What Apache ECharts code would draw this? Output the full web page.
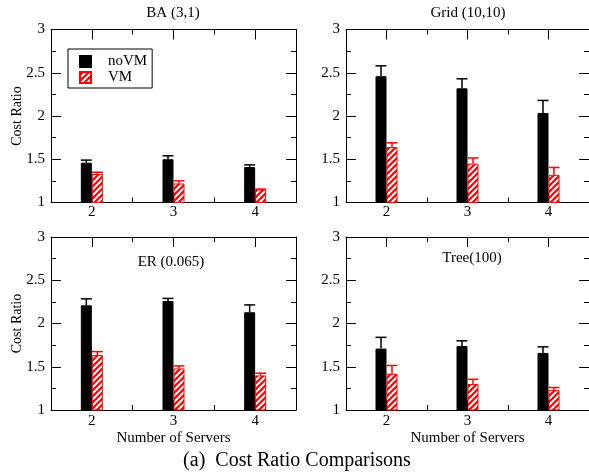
<!DOCTYPE html>
<html>
<head>
<meta charset="utf-8">
<script src="https://cdn.jsdelivr.net/npm/echarts@6/dist/echarts.min.js"></script>
<style>
html,body{margin:0;padding:0;background:#fff;}
#chart{width:589px;height:475px;}
</style>
</head>
<body>
<div id="chart"></div>
<script>
// ---- data ----
const categories = ['2', '3', '4'];
const panelTitles = ['BA (3,1)', 'Grid (10,10)', 'ER (0.065)', 'Tree(100)'];
const yMin = 1, yMax = 3, yStep = 0.5;

const baNoVM = [1.46, 1.50, 1.41];
const baNoVMErr = [0.03, 0.04, 0.025];
const baVM = [1.33, 1.22, 1.15];
const baVMErr = [0.02, 0.03, 0.005];

const gridNoVM = [2.46, 2.32, 2.035];
const gridNoVMErr = [0.12, 0.11, 0.145];
const gridVM = [1.64, 1.45, 1.32];
const gridVMErr = [0.05, 0.065, 0.085];

const erNoVM = [2.21, 2.26, 2.13];
const erNoVMErr = [0.075, 0.03, 0.085];
const erVM = [1.635, 1.48, 1.40];
const erVMErr = [0.04, 0.03, 0.025];

const treeNoVM = [1.71, 1.74, 1.66];
const treeNoVMErr = [0.13, 0.06, 0.07];
const treeVM = [1.42, 1.30, 1.23];
const treeVMErr = [0.095, 0.055, 0.03];

const panels = [
  {noVM: baNoVM, noVMErr: baNoVMErr, vm: baVM, vmErr: baVMErr},
  {noVM: gridNoVM, noVMErr: gridNoVMErr, vm: gridVM, vmErr: gridVMErr},
  {noVM: erNoVM, noVMErr: erNoVMErr, vm: erVM, vmErr: erVMErr},
  {noVM: treeNoVM, noVMErr: treeNoVMErr, vm: treeVM, vmErr: treeVMErr}
];

// ---- styles ----
const FONT = 'Liberation Serif';
const RED = '#ff0000';
const BAR_W = 11;
const grids = [
  {left: 51, top: 29.5, width: 245, height: 173},
  {left: 346, top: 29.5, width: 244, height: 173},
  {left: 51, top: 237, width: 245, height: 173},
  {left: 346, top: 237, width: 244, height: 173}
];

// hatch pattern
const pc = document.createElement('canvas');
pc.width = 6; pc.height = 6;
const ctx = pc.getContext('2d');
ctx.fillStyle = RED; ctx.fillRect(0, 0, 6, 6);
ctx.strokeStyle = '#ffffff'; ctx.lineWidth = 2;
ctx.beginPath();
ctx.moveTo(-1, 7); ctx.lineTo(7, -1);
ctx.moveTo(-4, 4); ctx.lineTo(4, -4);
ctx.moveTo(2, 10); ctx.lineTo(10, 2);
ctx.stroke();
const hatch = {image: pc, repeat: 'repeat'};

const xAxes = [], yAxes = [], series = [];
const lineStyle = {color: '#000', width: 1};

grids.forEach((g, gi) => {
  const bottomRow = gi >= 2;
  xAxes.push({
    type: 'category', data: categories, gridIndex: gi, position: 'bottom',
    axisLine: {show: true, onZero: false, lineStyle},
    axisTick: {show: true, inside: true, length: 5, alignWithLabel: false, lineStyle},
    axisLabel: {show: true, color: '#000', fontFamily: FONT, fontSize: 15, margin: bottomRow ? 4 : 2},
    splitLine: {show: false},
    name: bottomRow ? 'Number of Servers' : '',
    nameLocation: 'middle', nameGap: 21, nameMoveOverlap: false,
    nameTextStyle: {color: '#000', fontFamily: FONT, fontSize: 15}
  });
  xAxes.push({
    type: 'category', data: categories, gridIndex: gi, position: 'bottom',
    axisLine: {show: false, onZero: false},
    axisTick: {show: true, inside: true, length: 10, alignWithLabel: true, lineStyle},
    axisLabel: {show: false}, splitLine: {show: false}
  });
  xAxes.push({
    type: 'category', data: categories, gridIndex: gi, position: 'top',
    axisLine: {show: true, onZero: false, lineStyle},
    axisTick: {show: true, inside: true, length: 5, alignWithLabel: false, lineStyle},
    axisLabel: {show: false}, splitLine: {show: false}
  });
  xAxes.push({
    type: 'category', data: categories, gridIndex: gi, position: 'top',
    axisLine: {show: false, onZero: false},
    axisTick: {show: true, inside: true, length: 10, alignWithLabel: true, lineStyle},
    axisLabel: {show: false}, splitLine: {show: false}
  });
  const yBase = {
    type: 'value', gridIndex: gi, min: yMin, max: yMax, interval: yStep,
    axisLine: {show: true, onZero: false, lineStyle},
    axisTick: {show: true, inside: true, length: 10, lineStyle},
    minorTick: {show: true, splitNumber: 2, length: 5, lineStyle},
    splitLine: {show: false}, minorSplitLine: {show: false}
  };
  yAxes.push(Object.assign({}, yBase, {
    position: 'left',
    axisLabel: {show: true, color: '#000', fontFamily: FONT, fontSize: 15, margin: 6},
    name: (gi % 2 === 0) ? 'Cost Ratio' : '',
    nameLocation: 'middle', nameGap: 27, nameMoveOverlap: false,
    nameTextStyle: {color: '#000', fontFamily: FONT, fontSize: 14}
  }));
  yAxes.push(Object.assign({}, yBase, {position: 'right', axisLabel: {show: false}}));

  const p = panels[gi];
  const xi = gi * 4, yi = gi * 2;
  series.push({
    name: 'noVM', type: 'bar', xAxisIndex: xi, yAxisIndex: yi,
    data: p.noVM, barWidth: BAR_W, barGap: '0%',
    itemStyle: {color: '#000', borderColor: '#000', borderWidth: 1},
    silent: true, animation: false
  });
  series.push({
    name: 'VM', type: 'bar', xAxisIndex: xi, yAxisIndex: yi,
    data: p.vm, barWidth: BAR_W, barGap: '0%',
    itemStyle: {color: hatch, borderColor: RED, borderWidth: 1},
    silent: true, animation: false
  });
  const makeErr = (vals, errs, offset, color) => ({
    type: 'custom', xAxisIndex: xi, yAxisIndex: yi,
    data: vals.map((v, i) => [i, v, errs[i]]),
    encode: {x: 0, y: 1},
    silent: true, animation: false, z: 5,
    renderItem: (params, api) => {
      const c = api.value(0), v = api.value(1), e = api.value(2);
      const p0 = api.coord([c, v]);
      const p1 = api.coord([c, v + e]);
      const cx = p0[0] + offset;
      const st = {stroke: color, lineWidth: 1.5};
      return {
        type: 'group',
        children: [
          {type: 'line', shape: {x1: cx, y1: p0[1], x2: cx, y2: p1[1]}, style: st},
          {type: 'line', shape: {x1: cx - BAR_W / 2, y1: p1[1], x2: cx + BAR_W / 2, y2: p1[1]}, style: st}
        ]
      };
    }
  });
  series.push(makeErr(p.noVM, p.noVMErr, -BAR_W / 2, '#000'));
  series.push(makeErr(p.vm, p.vmErr, BAR_W / 2, RED));
});

const titleText = (text, x, y) => ({
  type: 'text', x: x, y: y,
  style: {text: text, fill: '#000', font: '15px "' + FONT + '"', align: 'center', verticalAlign: 'middle'}
});

const option = {
  animation: false,
  backgroundColor: '#fff',
  grid: grids,
  xAxis: xAxes,
  yAxis: yAxes,
  legend: {
    data: ['noVM', 'VM'],
    left: 68, top: 49, orient: 'vertical',
    icon: 'rect', itemWidth: 11, itemHeight: 11, itemGap: 1,
    padding: [5, 5, 3, 11],
    borderColor: '#000', borderWidth: 1, borderRadius: 0,
    selectedMode: false,
    textStyle: {color: '#000', fontFamily: FONT, fontSize: 15, lineHeight: 15, padding: [0, 0, 0, 12]}
  },
  series: series,
  graphic: [
    titleText(panelTitles[0], 173, 13),
    titleText(panelTitles[1], 468, 13),
    titleText(panelTitles[2], 171, 262),
    titleText(panelTitles[3], 472, 258),
    {type: 'text', x: 297, y: 461,
     style: {text: '(a)  Cost Ratio Comparisons', fill: '#000', font: '20px "' + FONT + '"', align: 'center', verticalAlign: 'middle'}}
  ]
};

const chart = echarts.init(document.getElementById('chart'), null, {renderer: 'canvas'});
chart.setOption(option);
</script>
</body>
</html>
